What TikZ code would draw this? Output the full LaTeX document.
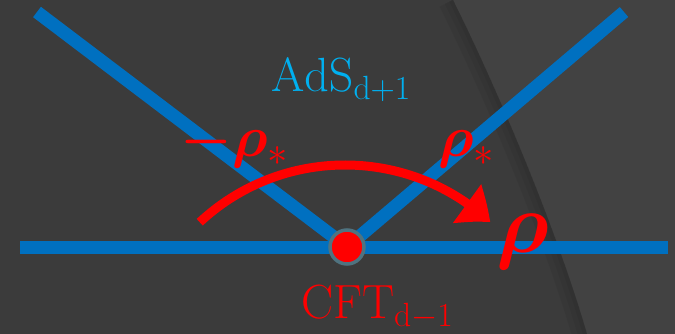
\documentclass[tikz,border=0pt]{standalone}
\usepackage{fix-cm}
\usepackage{amsmath,bm}
\usetikzlibrary{arrows.meta,bending}
\definecolor{slidebg}{HTML}{3B3B3B}
\definecolor{slidebgright}{HTML}{424242}
\definecolor{braneblue}{HTML}{0070C0}
\definecolor{adscyan}{HTML}{00B0F0}
\definecolor{cftred}{HTML}{FF0000}
\definecolor{dotrim}{HTML}{4F7380}
\def\bndcurve{(453,334) .. controls (495,250) and (555,110) .. (587,0)}
\tikzset{
  brane/.style={line width=13pt, draw=braneblue},
  flow/.style={-{Triangle[length=30pt, width=46pt, bend]}, line width=9pt, draw=cftred},
  dot/.style={circle, fill=cftred, draw=dotrim, line width=3.5pt,
    minimum size=34pt, inner sep=0pt},
  adstext/.style={text=adscyan, inner sep=0pt, anchor=base west,
    font=\fontsize{48}{48}\selectfont},
  redtext/.style={text=cftred, inner sep=0pt, anchor=base west,
    font=\fontsize{58}{58}\selectfont}
}
\begin{document}
\begin{tikzpicture}[x=1pt, y=1pt]
  % slide background with the curved lighter panel
  \fill[slidebg] (0,0) rectangle (675,334);
  \fill[slidebgright] \bndcurve -- (675,0) -- (675,334) -- cycle;
  \begin{scope}
    \clip \bndcurve -- (0,0) -- (0,334) -- cycle;
    \foreach \w in {30,18,8}
      \draw[black, opacity=0.05, line width=\w pt] \bndcurve;
  \end{scope}
  \useasboundingbox (0,0) rectangle (675,334);

  \coordinate (cft) at (347,87);
  \coordinate (leftend) at (37,322);
  \coordinate (rightend) at (624,322);
  \coordinate (bdryW) at (20,86);
  \coordinate (bdryE) at (668,86);
  \coordinate (arccentre) at (345,-44);

  \draw[brane] (bdryW) -- (bdryE);
  \draw[brane] (leftend) -- (cft);
  \draw[brane] (rightend) -- (cft);

  \draw[flow] ([shift={(133:213)}]arccentre)
    arc[start angle=133, end angle=47, radius=213];

  \node[dot] (cftpt) at (cft) {};

  \node[adstext] (ads) at (271,242) {$\mathrm{AdS}_{\mathrm{d+1}}$};
  \node[adstext, text=cftred] (cftlabel) at (301,15) {$\mathrm{CFT}_{\mathrm{d-1}}$};
  \node[redtext] (rhoneg) at (180,177) {$\bm{-\rho}_{*}$};
  \node[redtext] (rhopos) at (438,177) {$\bm{\rho}_{*}$};
  \node[redtext, font=\fontsize{86}{86}\selectfont] (rho) at (496,81) {$\bm{\rho}$};
\end{tikzpicture}
\end{document}
